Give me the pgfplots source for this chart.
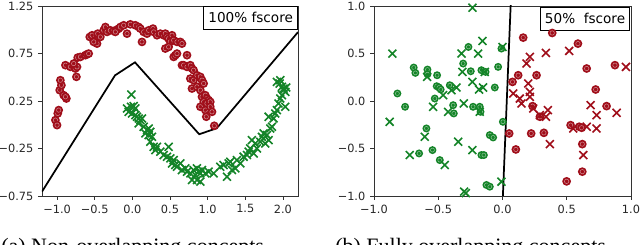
\documentclass[border=0pt]{standalone}
\usepackage{pgfplots}
\pgfplotsset{compat=1.18}
\usepackage{fontspec}
\setmainfont{DejaVu Sans}
\newfontfamily\capfont{Liberation Serif}
\definecolor{mred}{RGB}{160,14,26}
\definecolor{mgreen}{RGB}{20,132,40}
\pgfdeclareplotmark{ringdot}{%
  \pgfpathcircle{\pgfpointorigin}{\pgfplotmarksize}%
  \pgfusepathqfill
  \begin{pgfscope}%
  \pgfsetstrokecolor{white}\pgfsetstrokeopacity{0.55}\pgfsetlinewidth{0.35pt}%
  \pgfpathcircle{\pgfpointorigin}{0.5\pgfplotmarksize}%
  \pgfusepathqstroke
  \end{pgfscope}%
}
\tikzset{
  fbox/.style={draw=black, fill=white, line width=0.6pt, font=\fontsize{10.2}{11}\selectfont, anchor=north east, minimum height=17pt, inner xsep=3.5pt, inner ysep=2pt},
}
\pgfplotsset{
  common/.style={
    scale only axis, anchor=south west,
    tick pos=left, tick align=outside, major tick length=3pt,
    axis line style={black!80, line width=0.6pt},
    every tick/.style={black!80, line width=0.6pt},
    ticklabel style={font=\fontsize{8.5}{9}\selectfont, text=black!85},
    clip=true,
  },
  redc/.style={only marks, mark=ringdot, mark size=3.3pt, color=mred, mark options={fill=mred}},
  greenc/.style={only marks, mark=ringdot, mark size=3pt, color=mgreen, mark options={fill=mgreen}},
  redx/.style={only marks, mark=x, mark size=4.2pt, color=mred, mark options={line width=1.2pt}},
  greenx/.style={only marks, mark=x, mark size=4.2pt, color=mgreen, mark options={line width=1.2pt}},
}
\begin{document}
\begin{tikzpicture}
\useasboundingbox (0pt,0pt) rectangle (480pt,183.75pt);
\clip (0pt,0pt) rectangle (480pt,183.75pt);
\begin{axis}[common, at={(31.5pt,36.75pt)}, width=192pt, height=142.5pt,
  xmin=-1.2, xmax=2.2, ymin=-0.75, ymax=1.25,
  xtick={-1,-0.5,0,0.5,1,1.5,2},
  xticklabels={−1.0,−0.5,0.0,0.5,1.0,1.5,2.0},
  ytick={-0.75,-0.25,0.25,0.75,1.25},
  yticklabels={−0.75,−0.25,0.25,0.75,1.25}]
\addplot[redc] coordinates {
(-1.022,0.049)(-1.0,-0.004)(-0.991,0.119)(-0.978,0.154)(-0.965,0.364)(-0.942,0.416)(-0.956,0.469)(-0.912,0.311)(-0.876,0.276)(-0.889,0.294)
(-0.889,0.627)(-0.823,0.609)(-0.757,0.592)(-0.735,0.609)(-0.743,0.504)(-0.779,0.644)
(-0.726,0.707)(-0.690,0.714)(-0.624,0.732)(-0.602,0.742)(-0.580,0.749)
(-0.566,0.924)(-0.535,0.942)(-0.491,0.889)(-0.469,0.854)(-0.513,0.872)(-0.447,0.924)(-0.460,0.959)(-0.425,0.924)
(-0.381,0.994)(-0.358,1.029)(-0.336,0.977)(-0.292,0.994)(-0.248,0.987)(-0.204,1.001)(-0.181,1.012)(-0.226,0.977)(-0.159,1.029)(-0.115,1.047)(-0.071,0.959)(-0.027,1.057)
(0.040,1.047)(0.084,1.029)(0.106,1.012)(0.150,0.977)(0.128,0.872)(0.195,0.959)(0.217,0.994)(0.274,1.012)(0.283,0.977)(0.327,0.942)(0.372,0.959)(0.416,0.942)(0.438,0.959)(0.460,0.924)(0.482,0.907)(0.504,0.872)(0.527,0.942)(0.549,0.889)(0.593,0.872)(0.637,0.872)(0.659,0.854)(0.438,0.802)(0.482,0.819)(0.549,0.714)(0.571,0.732)(0.593,0.749)(0.659,0.627)(0.681,0.627)(0.726,0.732)(0.726,0.609)(0.770,0.627)(0.792,0.592)(0.814,0.574)(0.770,0.486)(0.814,0.469)(0.858,0.521)(0.903,0.504)(0.925,0.469)(0.792,0.381)(0.858,0.399)(0.903,0.364)(0.947,0.434)(0.925,0.294)(0.969,0.311)(0.991,0.276)(1.013,0.259)(0.947,0.241)(0.991,0.224)(1.035,0.241)(0.903,0.189)(0.969,0.154)(1.035,0.189)(1.058,0.136)(0.982,0.084)(1.088,-0.011)
};
\addplot[greenx] coordinates {
(-0.013,0.318)(-0.071,0.171)(-0.018,0.189)(0.018,0.196)(0.040,0.171)(-0.049,0.136)(-0.004,0.119)(0.040,0.101)(0.062,0.084)(0.084,0.066)(0.106,0.049)(0.128,0.066)(0.084,0.014)(0.150,-0.021)(0.195,-0.056)(0.217,-0.039)(0.239,-0.074)(0.173,-0.091)(0.217,-0.109)(0.261,-0.127)(0.239,-0.179)(0.283,-0.232)(0.305,-0.267)(0.327,-0.232)(0.372,-0.284)(0.416,-0.319)(0.482,-0.232)(0.460,-0.337)(0.504,-0.354)(0.549,-0.372)(0.527,-0.407)(0.571,-0.424)(0.593,-0.442)(0.637,-0.407)(0.659,-0.477)(0.704,-0.459)(0.726,-0.494)(0.770,-0.512)(0.814,-0.477)(0.836,-0.529)(0.858,-0.459)(0.881,-0.494)(0.903,-0.512)(0.925,-0.477)(0.792,-0.582)(0.858,-0.582)(0.903,-0.599)(0.969,-0.512)(1.013,-0.494)(1.080,-0.512)(1.168,-0.442)(1.212,-0.424)(1.257,-0.547)(1.279,-0.407)(1.301,-0.389)(1.323,-0.477)(1.367,-0.459)(1.389,-0.372)(1.434,-0.407)(1.478,-0.337)(1.522,-0.319)(1.544,-0.284)(1.566,-0.249)(1.588,-0.162)(1.611,-0.302)(1.633,-0.197)(1.655,-0.249)(1.699,-0.179)(1.721,-0.127)(1.743,-0.091)(1.765,-0.197)(1.788,-0.109)(1.810,-0.162)(1.832,-0.039)(1.854,-0.021)(1.810,0.084)(1.876,0.066)(1.898,0.119)(1.920,0.154)(1.942,0.224)(1.965,0.276)(1.987,0.311)(2.009,0.381)(2.031,0.346)(1.920,0.451)(1.956,0.434)(1.987,0.399)(2.009,0.364)(2.044,0.392)(1.965,0.469)(2.031,0.189)
};
\addplot[black, line width=1.3pt] coordinates {(-1.2,-0.704)(-0.23,0.52)(0.035,0.657)(0.888,-0.10)(1.12,-0.037)(2.2,0.975)};
\node[fbox] at (rel axis cs:1,1) {100\% fscore};
\end{axis}
\begin{axis}[common, at={(280.5pt,36.75pt)}, width=192.75pt, height=142.5pt,
  xmin=-1, xmax=1, ymin=-1, ymax=1,
  xtick={-1,-0.5,0,0.5,1},
  xticklabels={−1.0,−0.5,0.0,0.5,1.0},
  ytick={-1,-0.5,0,0.5,1},
  yticklabels={−1.0,−0.5,0.0,0.5,1.0}]
\addplot[greenc] coordinates {
(-0.691,0.352)(-0.678,0.296)(-0.584,0.331)(-0.584,0.282)(-0.509,0.271)(-0.818,0.079)(-0.758,-0.061)(-0.527,0.026)(-0.512,0.156)(-0.494,0.142)(-0.481,0.121)(-0.410,0.166)(-0.384,-0.044)(-0.379,-0.131)(-0.306,0.394)(-0.265,0.569)(-0.247,0.313)(-0.229,-0.061)(-0.177,-0.061)(-0.171,-0.114)(-0.164,0.324)(-0.132,0.306)(-0.060,0.142)(-0.034,0.359)(-0.008,0.552)(0.003,-0.219)(-0.099,-0.359)(-0.073,-0.384)(-0.164,-0.569)(-0.145,-0.569)(-0.125,-0.884)(-0.099,-0.902)(-0.545,-0.517)(-0.488,-0.622)(-0.649,-0.552)(-0.592,-0.289)(-0.24,-1.03)
};
\addplot[greenx] coordinates {
(-0.857,0.499)(-0.878,-0.219)(-0.722,-0.569)(-0.605,-0.377)(-0.587,0.254)(-0.540,-0.061)(-0.449,-0.674)(-0.462,0.061)(-0.397,0.114)(-0.358,0.142)(-0.423,-0.114)(-0.345,-0.429)(-0.319,0.499)(-0.312,0.306)(-0.301,-0.026)(-0.234,0.201)(-0.234,-0.517)(-0.234,0.982)(-0.190,0.499)(-0.182,0.121)(-0.151,0.142)(-0.156,0.632)(-0.138,0.306)(-0.177,-0.114)(-0.299,-0.954)(-0.285,-0.97)(-0.008,-0.849)(0.0,0.569)
};
\addplot[redc] coordinates {
(0.161,0.667)(0.387,0.716)(0.587,0.604)(0.078,0.201)(0.122,0.271)(0.265,0.271)(0.655,0.342)(0.875,0.377)(0.725,0.121)(0.810,-0.054)(0.234,-0.054)(0.291,-0.166)(0.052,-0.342)(0.104,-0.510)(0.223,-0.342)(0.322,-0.335)(0.530,-0.254)(0.597,-0.271)(0.616,-0.282)(0.621,-0.454)(0.621,-0.744)(0.499,-0.846)
};
\addplot[redx] coordinates {
(0.187,0.394)(0.213,0.464)(0.338,0.506)(0.519,0.527)(0.961,0.359)(0.083,0.079)(0.135,0.026)(0.148,-0.026)(0.200,0.184)(0.213,0.096)(0.213,0.044)(0.239,-0.079)(0.291,-0.149)(0.338,-0.166)(0.353,-0.096)(0.369,-0.454)(0.551,-0.289)(0.629,-0.569)(0.686,-0.044)(0.732,-0.149)(0.732,-0.289)(0.888,-0.124)(0.655,-0.271)
};
\addplot[black, line width=1.3pt] coordinates {(0.003,-1.0)(0.064,1.02)};
\node[fbox] at (rel axis cs:0.997,0.995) {50\%\ \ fscore};
\end{axis}
\node[anchor=base west, inner sep=0pt, font=\capfont\fontsize{16.5}{18}\selectfont] at (0.75pt,-6.75pt) {(a) Non-overlapping concepts};
\node[anchor=base west, inner sep=0pt, font=\capfont\fontsize{16.5}{18}\selectfont] at (251.25pt,-6.75pt) {(b) Fully overlapping concepts};
\end{tikzpicture}
\end{document}
